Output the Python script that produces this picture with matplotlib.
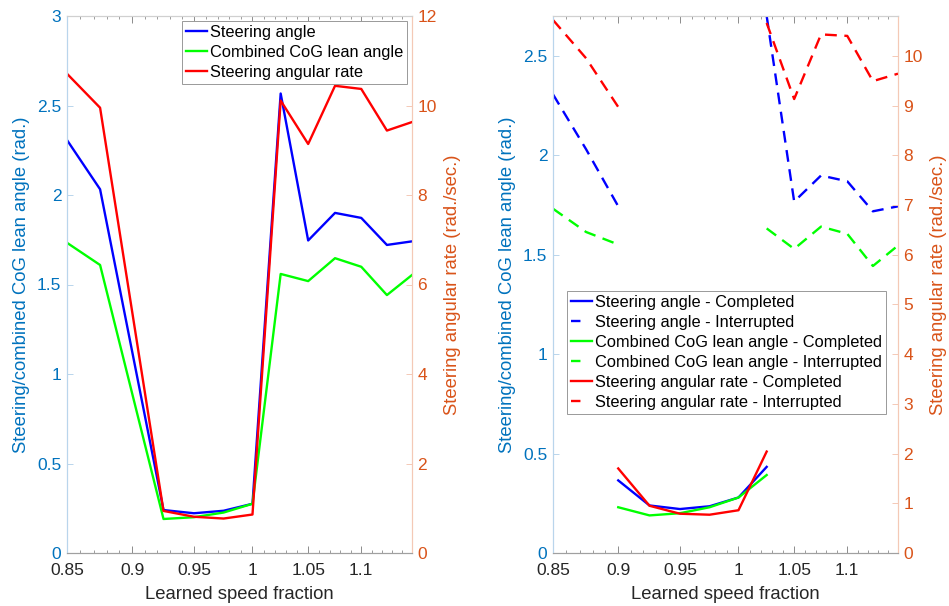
import matplotlib
matplotlib.use('Agg')
import matplotlib.pyplot as plt
import numpy as np
from matplotlib.ticker import FixedLocator, FixedFormatter, NullFormatter

plt.rcParams['font.family'] = ['Liberation Sans', 'DejaVu Sans']

nan = np.nan

# ---------------- data ----------------
# Left panel (all trials)
speed_all = [0.85, 0.875, 0.925, 0.95, 0.975, 1.0, 1.025, 1.05, 1.075, 1.1, 1.125, 1.15]
steer_all = [2.307, 2.032, 0.240, 0.222, 0.236, 0.275, 2.567, 1.746, 1.900, 1.872, 1.721, 1.741]
lean_all = [1.733, 1.609, 0.190, 0.200, 0.226, 0.275, 1.559, 1.519, 1.647, 1.599, 1.441, 1.553]
rate_all = [10.71, 9.95, 0.94, 0.81, 0.77, 0.86, 10.11, 9.14, 10.44, 10.37, 9.44, 9.63]

# Right panel - completed
speed_comp = [0.9, 0.925, 0.95, 0.975, 1.0, 1.025]
steer_comp = [0.365, 0.239, 0.221, 0.235, 0.279, 0.433]
lean_comp = [0.230, 0.189, 0.200, 0.230, 0.279, 0.392]
rate_comp = [1.70, 0.95, 0.79, 0.77, 0.86, 2.04]

# Right panel - interrupted (NaN = no interrupted trials)
speed_int = [0.85, 0.875, 0.9, 0.925, 0.95, 0.975, 1.0, 1.025, 1.05, 1.075, 1.1, 1.125, 1.15]
steer_int = [2.306, 2.030, 1.743, nan, nan, nan, nan, 2.70, 1.767, 1.898, 1.869, 1.718, 1.743]
lean_int = [1.731, 1.614, 1.551, nan, nan, nan, nan, 1.632, 1.529, 1.641, 1.605, 1.443, 1.546]
rate_int = [10.72, 9.95, 8.97, nan, nan, nan, nan, 10.66, 9.13, 10.43, 10.40, 9.49, 9.64]

x_ticks = [0.85, 0.9, 0.95, 1.0, 1.05, 1.1]
x_ticklabels = ['0.85', '0.9', '0.95', '1', '1.05', '1.1']
x_minor = [round(0.85 + 0.01 * i, 2) for i in range(31)]

# ---------------- style ----------------
C_LEFT = '#0072BD'
C_RIGHT = '#D95319'
SP_LEFT = '#b9d5ec'
SP_RIGHT = '#f4c9b6'
BLUE, GREEN, RED = '#0000ff', '#00ff00', '#ff0000'
LW = 1.7
DASH = (5, 3.2)
FS_TICK = 12.5
FS_LAB = 13.3
FS_LEG = 11.8

fig = plt.figure(figsize=(9.49, 6.06), dpi=100)
W, H = 949, 606


def make_axes(x0, y0, x1, y1):
    ax = fig.add_axes([x0 / W, 1 - y1 / H, (x1 - x0) / W, (y1 - y0) / H])
    ax2 = ax.twinx()
    ax.set_xscale('log')
    ax.set_xlim(0.85, 1.15)
    ax.xaxis.set_major_locator(FixedLocator(x_ticks))
    ax.xaxis.set_major_formatter(FixedFormatter(x_ticklabels))
    ax.xaxis.set_minor_locator(FixedLocator(x_minor))
    ax.xaxis.set_minor_formatter(NullFormatter())
    ax.tick_params(axis='x', which='both', direction='in', top=True, bottom=True,
                   colors='#8c8c8c', labelcolor='#262626', labelsize=FS_TICK, pad=7)
    ax.tick_params(axis='x', which='major', length=5, width=0.7)
    ax.tick_params(axis='x', which='minor', length=2.5, width=0.6)
    ax.tick_params(axis='y', direction='in', length=4, width=0.7, colors=SP_LEFT,
                   labelcolor=C_LEFT, labelsize=FS_TICK, pad=4)
    ax2.tick_params(axis='y', direction='in', length=4, width=0.7, colors=SP_RIGHT,
                    labelcolor=C_RIGHT, labelsize=FS_TICK, pad=4)
    for a in (ax, ax2):
        a.spines['left'].set_color(SP_LEFT)
        a.spines['right'].set_color(SP_RIGHT)
        a.spines['top'].set_color('#d0d0d0')
        a.spines['bottom'].set_color('#a0a0a0')
        for s in a.spines.values():
            s.set_linewidth(0.8)
    ax.set_xlabel('Learned speed fraction', fontsize=FS_LAB, color='#262626', labelpad=6)
    ax.set_ylabel('Steering/combined CoG lean angle (rad.)', fontsize=FS_LAB,
                  color=C_LEFT, labelpad=5)
    ax2.set_ylabel('Steering angular rate (rad./sec.)', fontsize=FS_LAB,
                   color=C_RIGHT, rotation=90, labelpad=5)
    return ax, ax2


def fmt(v):
    return '%g' % v


def style_legend(leg):
    leg.get_frame().set_linewidth(0.7)
    for ln in leg.get_lines():
        if ln.get_linestyle() not in ('-', 'solid'):
            ln.set_dashes((4, 12))


LEG_KW = dict(fontsize=FS_LEG, frameon=True, fancybox=False, edgecolor='#999999',
              framealpha=1, handlelength=1.3, handletextpad=0.15, borderpad=0.25,
              labelspacing=0.3, borderaxespad=0)

# ---------------- left panel ----------------
axL, axL2 = make_axes(67, 16, 412, 553)
axL.set_ylim(0, 3)
axL.set_yticks(np.arange(0, 3.01, 0.5))
axL.set_yticklabels([fmt(v) for v in np.arange(0, 3.01, 0.5)])
axL2.set_ylim(0, 12)
axL2.set_yticks(np.arange(0, 12.1, 2))
axL2.set_yticklabels([fmt(v) for v in np.arange(0, 12.1, 2)])

l1, = axL.plot(speed_all, steer_all, color=BLUE, lw=LW, label='Steering angle')
l2, = axL.plot(speed_all, lean_all, color=GREEN, lw=LW, label='Combined CoG lean angle')
l3, = axL2.plot(speed_all, rate_all, color=RED, lw=LW, label='Steering angular rate')
legL = axL2.legend(handles=[l1, l2, l3], loc='upper right', bbox_to_anchor=(0.986, 0.991),
                   **LEG_KW)
style_legend(legL)

# ---------------- right panel ----------------
axR, axR2 = make_axes(553, 16, 898, 553)
axR.set_ylim(0, 2.7)
axR.set_yticks(np.arange(0, 2.51, 0.5))
axR.set_yticklabels([fmt(v) for v in np.arange(0, 2.51, 0.5)])
axR2.set_ylim(0, 10.8)
axR2.set_yticks(np.arange(0, 10.1, 1))
axR2.set_yticklabels([fmt(v) for v in np.arange(0, 10.1, 1)])

r1, = axR.plot(speed_comp, steer_comp, color=BLUE, lw=LW, label='Steering angle - Completed')
r2, = axR.plot(speed_int, steer_int, color=BLUE, lw=LW, dashes=DASH,
               label='Steering angle - Interrupted')
r3, = axR.plot(speed_comp, lean_comp, color=GREEN, lw=LW,
               label='Combined CoG lean angle - Completed')
r4, = axR.plot(speed_int, lean_int, color=GREEN, lw=LW, dashes=DASH,
               label='Combined CoG lean angle - Interrupted')
r5, = axR2.plot(speed_comp, rate_comp, color=RED, lw=LW,
                label='Steering angular rate - Completed')
r6, = axR2.plot(speed_int, rate_int, color=RED, lw=LW, dashes=DASH,
                label='Steering angular rate - Interrupted')
legR = axR2.legend(handles=[r1, r2, r3, r4, r5, r6], loc='upper left',
                   bbox_to_anchor=(0.04, 0.488), **LEG_KW)
style_legend(legR)

fig.savefig('out.png', dpi=100)
